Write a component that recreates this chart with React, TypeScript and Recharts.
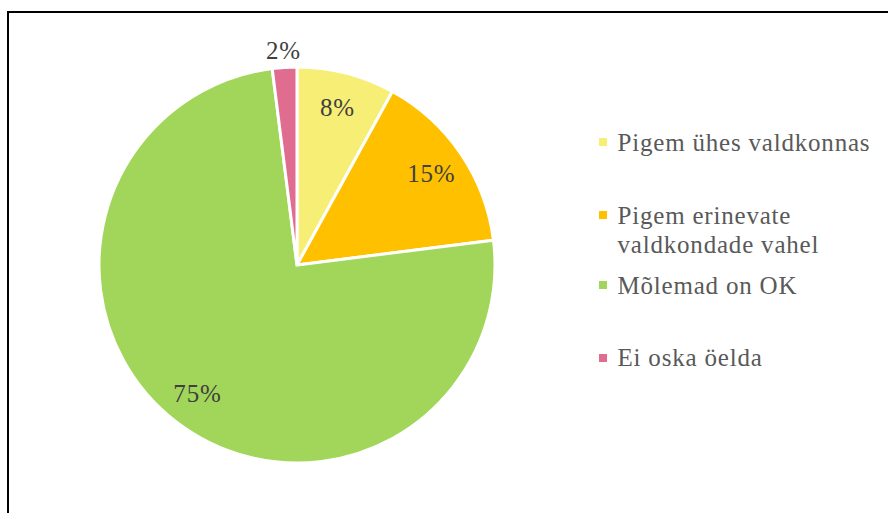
import React from 'react';
import { PieChart, Pie, Cell, Legend } from 'recharts';

const categories = ['Pigem ühes valdkonnas', 'Pigem erinevate valdkondade vahel', 'Mõlemad on OK', 'Ei oska öelda'];
const legendLines = [['Pigem ühes valdkonnas'], ['Pigem erinevate', 'valdkondade vahel'], ['Mõlemad on OK'], ['Ei oska öelda']];
const values = [8, 15, 75, 2];
const colors = ['#F7EF75', '#FFC000', '#A2D65A', '#E06C90'];

const data = categories.map((name, i) => ({ name, value: values[i] }));

const RAD = Math.PI / 180;
const FONT = 'Liberation Serif';

const renderLabel = (props: any) => {
  const { cx, cy, midAngle, outerRadius, value } = props;
  const r = value < 5 ? outerRadius + 17 : outerRadius * 0.82;
  const x = cx + r * Math.cos(-midAngle * RAD);
  const y = cy + r * Math.sin(-midAngle * RAD);
  return (
    <text x={x} y={y} fill="#404040" fontFamily={FONT} fontSize={25} letterSpacing={0.8} textAnchor="middle" dominantBaseline="central">
      {`${value}%`}
    </text>
  );
};

const legendTops = [127.5, 200.5, 270.5, 343];

const renderLegend = () => (
  <div style={{ position: 'absolute', left: 0, top: 0, width: 888, height: 513 }}>
    {legendLines.map((lines, i) => (
      <div key={i} style={{ position: 'absolute', left: 599, top: legendTops[i], fontFamily: FONT, fontSize: 25, letterSpacing: 0.8, lineHeight: '29px', color: '#595959', whiteSpace: 'nowrap' }}>
        <div style={{ position: 'absolute', left: 0, top: 10.5, width: 8, height: 8, background: colors[i] }} />
        <div style={{ marginLeft: 18.5 }}>
          {lines.map((l, j) => (
            <div key={j}>{l}</div>
          ))}
        </div>
      </div>
    ))}
  </div>
);

export default function App() {
  return (
    <div style={{ position: 'absolute', left: 0, top: 0, width: 888, height: 513, overflow: 'hidden', background: '#fff' }}>
      <div style={{ position: 'absolute', left: 7, top: 11, width: 1000, height: 1000, border: '2px solid #000', boxShadow: '1px 1px 0 #999' }} />
      <div style={{ position: 'absolute', left: 0, top: 0 }}>
        <PieChart width={888} height={513} margin={{ top: 0, right: 0, bottom: 0, left: 0 }}>
          <Pie
            data={data}
            dataKey="value"
            nameKey="name"
            cx={297}
            cy={265}
            outerRadius={198}
            startAngle={90}
            endAngle={-270}
            stroke="#fff"
            strokeWidth={3}
            label={renderLabel}
            labelLine={false}
            isAnimationActive={false}
          >
            {data.map((d, i) => (
              <Cell key={d.name} fill={colors[i]} />
            ))}
          </Pie>
          <Legend content={renderLegend} wrapperStyle={{ position: 'absolute', left: 0, top: 0, width: 888, height: 513 }} />
        </PieChart>
      </div>
    </div>
  );
}
